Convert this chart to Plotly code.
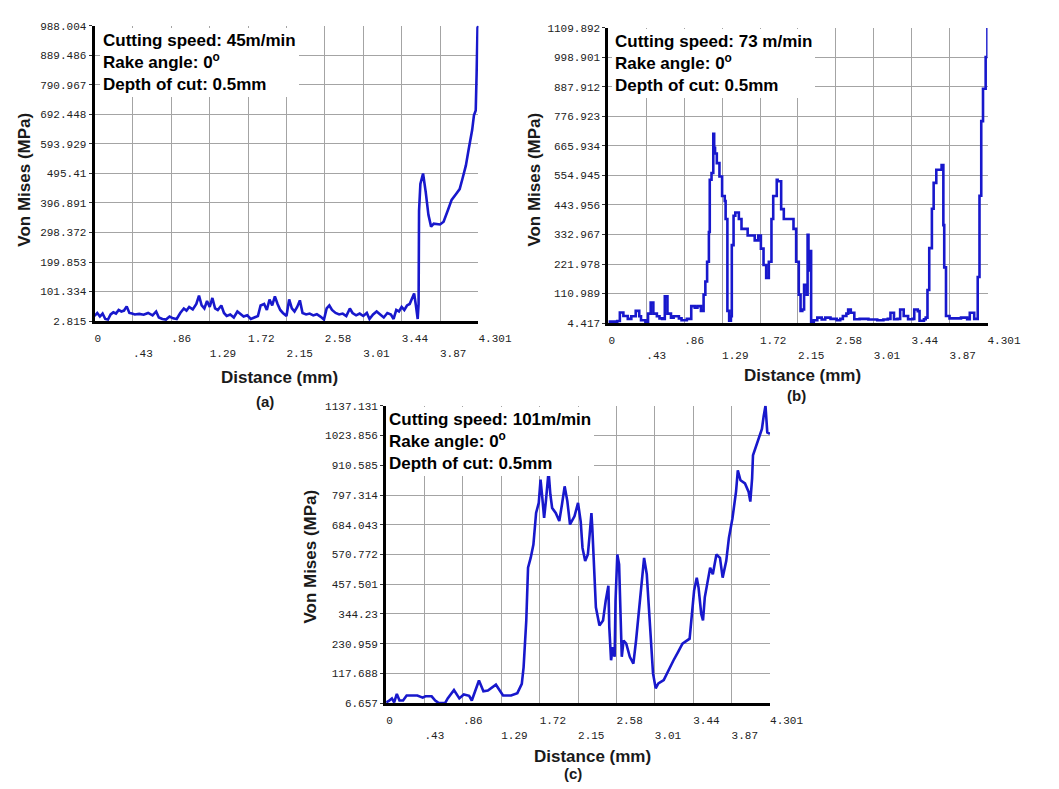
import numpy as np
import plotly.graph_objects as go

# ---------------- data ----------------
X_TICKS = [0, 0.43, 0.86, 1.29, 1.72, 2.15, 2.58, 3.01, 3.44, 3.87, 4.301]
X_TICK_LABELS = ["0", ".43", ".86", "1.29", "1.72", "2.15", "2.58", "3.01", "3.44", "3.87", "4.301"]

A_YTICKS = ["2.815", "101.334", "199.853", "298.372", "396.891", "495.41",
            "593.929", "692.448", "790.967", "889.486", "988.004"]
B_YTICKS = ["4.417", "110.989", "221.978", "332.967", "443.956", "554.945",
            "665.934", "776.923", "887.912", "998.901", "1109.892"]
C_YTICKS = ["6.657", "117.688", "230.959", "344.23", "457.501", "570.772",
            "684.043", "797.314", "910.585", "1023.856", "1137.131"]

# (a) 45 m/min
a_dist = [0.00, 0.03, 0.06, 0.09, 0.12, 0.15, 0.18, 0.21, 0.24, 0.27, 0.30, 0.33, 0.36, 0.39,
          0.42, 0.45, 0.50, 0.55, 0.60, 0.65, 0.69, 0.72, 0.76, 0.80, 0.84, 0.88, 0.92, 0.96,
          1.00, 1.03, 1.06, 1.10, 1.14, 1.17, 1.20, 1.23, 1.26, 1.29, 1.32, 1.35, 1.38, 1.42,
          1.45, 1.48, 1.52, 1.56, 1.60, 1.63, 1.67, 1.71, 1.75, 1.79, 1.83, 1.86, 1.90, 1.93,
          1.96, 1.99, 2.02, 2.05, 2.08, 2.11, 2.15, 2.18, 2.21, 2.24, 2.27, 2.30, 2.33, 2.37,
          2.41, 2.45, 2.49, 2.53, 2.57, 2.60, 2.63, 2.66, 2.70, 2.74, 2.78, 2.82, 2.86, 2.89,
          2.93, 2.97, 3.01, 3.05, 3.08, 3.12, 3.16, 3.20, 3.24, 3.28, 3.32, 3.35, 3.38, 3.41,
          3.44, 3.47, 3.50, 3.53, 3.56, 3.58, 3.60, 3.62, 3.63, 3.635, 3.65, 3.68, 3.71, 3.74,
          3.77, 3.80, 3.87, 3.91, 3.96, 4.00, 4.05, 4.09, 4.12, 4.16, 4.19, 4.23, 4.25, 4.27,
          4.28, 4.29, 4.30]
a_mises = [20, 30, 18, 28, 10, 8, 25, 32, 28, 40, 35, 38, 52, 30,
           28, 25, 27, 24, 30, 22, 35, 15, 10, 8, 18, 12, 10, 30,
           45, 38, 50, 42, 60, 88, 55, 45, 70, 50, 80, 45, 40, 55,
           30, 20, 25, 15, 35, 28, 18, 22, 10, 15, 20, 55, 60, 40,
           75, 55, 85, 60, 40, 30, 20, 75, 45, 35, 50, 72, 30, 25,
           28, 22, 26, 18, 8, 45, 55, 40, 30, 25, 28, 20, 45, 30,
           22, 28, 20, 30, 10, 25, 35, 25, 15, 30, 25, 10, 40, 35,
           50, 40, 55, 60, 80, 95, 55, 10, 60, 370, 460, 495, 433, 357,
           318, 328, 325, 334, 374, 407, 427, 443, 476, 522, 574, 640, 689, 705,
           827, 981, 988]

# (b) 73 m/min
b_dist = [0.00, 0.05, 0.10, 0.13, 0.17, 0.22, 0.26, 0.31, 0.35, 0.37, 0.42, 0.45, 0.48, 0.51,
          0.55, 0.58, 0.61, 0.64, 0.67, 0.71, 0.74, 0.80, 0.83, 0.89, 0.94, 0.98, 1.01, 1.05,
          1.08, 1.10, 1.12, 1.14, 1.15, 1.17, 1.19, 1.20, 1.21, 1.23, 1.26, 1.29, 1.32, 1.33,
          1.35, 1.37, 1.39, 1.40, 1.42, 1.44, 1.48, 1.51, 1.58, 1.66, 1.70, 1.73, 1.76, 1.79,
          1.82, 1.85, 1.87, 1.91, 1.92, 1.96, 1.99, 2.09, 2.10, 2.13, 2.16, 2.18, 2.20, 2.22,
          2.25, 2.26, 2.27, 2.28, 2.30, 2.33, 2.37, 2.42, 2.46, 2.52, 2.59, 2.63, 2.66, 2.70,
          2.72, 2.75, 2.79, 2.85, 2.95, 3.05, 3.12, 3.17, 3.20, 3.24, 3.28, 3.31, 3.35, 3.40,
          3.45, 3.47, 3.51, 3.53, 3.58, 3.60, 3.62, 3.64, 3.67, 3.69, 3.72, 3.78, 3.80, 3.81,
          3.83, 3.87, 4.00, 4.07, 4.10, 4.15, 4.17, 4.19, 4.21, 4.23, 4.25, 4.28, 4.30]
b_mises = [10, 10, 12, 44, 31, 20, 30, 50, 30, 15, 10, 40, 81, 40,
           30, 22, 20, 105, 40, 25, 30, 22, 15, 20, 68, 62, 68, 50,
           111, 160, 234, 345, 541, 566, 713, 660, 639, 603, 553, 480, 461, 394,
           50, 13, 30, 296, 406, 418, 394, 357, 332, 314, 332, 283, 222, 173,
           234, 394, 480, 541, 535, 431, 394, 394, 357, 234, 111, 50, 55, 148,
           111, 335, 201, 274, 10, 15, 25, 18, 25, 20, 15, 20, 31, 40,
           55, 43, 19, 20, 18, 15, 18, 20, 43, 19, 20, 55, 31, 19,
           20, 55, 49, 13, 19, 25, 128, 285, 432, 529, 578, 596, 371, 213,
           31, 22, 25, 19, 43, 20, 20, 177, 481, 760, 881, 1000, 1109]

# (c) 101 m/min
c_dist = [0.00, 0.03, 0.065, 0.09, 0.12, 0.15, 0.19, 0.23, 0.28, 0.35, 0.41, 0.44, 0.51, 0.55,
          0.59, 0.66, 0.69, 0.76, 0.82, 0.87, 0.93, 0.96, 1.04, 1.09, 1.14, 1.23, 1.31, 1.40,
          1.47, 1.52, 1.54, 1.57, 1.59, 1.62, 1.65, 1.67, 1.68, 1.71, 1.73, 1.75, 1.77, 1.79,
          1.82, 1.84, 1.86, 1.90, 1.94, 1.97, 2.00, 2.03, 2.06, 2.11, 2.15, 2.18, 2.20, 2.23,
          2.26, 2.28, 2.30, 2.31, 2.33, 2.35, 2.39, 2.43, 2.46, 2.49, 2.50, 2.52, 2.54, 2.56,
          2.57, 2.59, 2.61, 2.62, 2.64, 2.66, 2.69, 2.73, 2.77, 2.80, 2.84, 2.87, 2.89, 2.92,
          2.95, 2.97, 2.99, 3.02, 3.05, 3.11, 3.16, 3.22, 3.27, 3.32, 3.40, 3.42, 3.45, 3.48,
          3.50, 3.53, 3.55, 3.57, 3.61, 3.63, 3.66, 3.70, 3.74, 3.77, 3.81, 3.84, 3.88, 3.92,
          3.94, 3.97, 4.02, 4.06, 4.08, 4.10, 4.11, 4.15, 4.18, 4.21, 4.23, 4.25, 4.26, 4.27,
          4.30]
c_mises = [10, 15, 25, 10, 42, 17, 17, 36, 36, 36, 28, 33, 33, 17,
           7, 7, 25, 57, 25, 40, 35, 17, 93, 52, 55, 77, 36, 36,
           45, 80, 143, 320, 522, 560, 610, 680, 730, 768, 857, 787, 711, 775,
           888, 800, 749, 730, 699, 762, 831, 775, 686, 717, 768, 697, 597, 547,
           572, 647, 729, 672, 522, 371, 302, 321, 396, 453, 296, 170, 220, 183,
           396, 572, 534, 396, 183, 245, 233, 183, 157, 245, 396, 497, 559, 497,
           346, 220, 120, 63, 82, 95, 132, 170, 201, 233, 252, 321, 434, 484,
           446, 346, 321, 409, 484, 522, 497, 572, 559, 484, 547, 635, 710, 811,
           892, 854, 842, 811, 773, 861, 949, 986, 1018, 1049, 1099, 1137, 1087, 1036,
           1030]

SPEEDS = ["Cutting speed: 45m/min", "Cutting speed: 73 m/min", "Cutting speed: 101m/min"]
PANEL_LABELS = ["(a)", "(b)", "(c)"]

# ---------------- layout helpers ----------------
W, H = 1059, 789
def fx(p):
    return p / W
def fy(p):
    return 1 - p / H

LINE_COLOR = "rgb(24,24,204)"
GRID = "#a4a4a4"
TICKFONT = dict(family="Liberation Mono", size=11, color="#222222")
BOLD = "Liberation Sans"

# plot boxes in window pixels: left, right, top, bottom
panels = [
    dict(x=a_dist, y=a_mises, yt=A_YTICKS, box=(91, 490, 21, 321), shape="linear",
         text_xy=(97, 23), ytitle=(18, 177), xtitle=(283, 378), lab=(268, 403)),
    dict(x=b_dist, y=b_mises, yt=B_YTICKS, box=(625, 1019, 23, 323), shape="hv",
         text_xy=(629, 24), ytitle=(548, 177), xtitle=(827, 376), lab=(820, 397)),
    dict(x=c_dist, y=c_mises, yt=C_YTICKS, box=(394, 793, 407, 709), shape="linear",
         text_xy=(394, 408), ytitle=(315, 560), xtitle=(608, 763), lab=(588, 780)),
]

def left_aligned(s):
    return "\u00a0" * len(s) + s

fig = go.Figure()
layout = dict(width=W, height=H, margin=dict(l=0, r=0, t=0, b=0),
              paper_bgcolor="white", plot_bgcolor="white", showlegend=False)
annotations = []

for i, p in enumerate(panels):
    n = i + 1
    xa = "x" if n == 1 else f"x{n}"
    ya = "y" if n == 1 else f"y{n}"
    fig.add_trace(go.Scatter(x=p["x"], y=p["y"], mode="lines", xaxis=xa, yaxis=ya,
                             line=dict(color=LINE_COLOR, width=2.6, shape=p["shape"]),
                             hoverinfo="x+y"))
    l, r, t, b = p["box"]
    ylo, yhi = float(p["yt"][0]), float(p["yt"][-1])
    ytv = list(np.linspace(ylo, yhi, len(p["yt"])))
    xtxt = [left_aligned(s) if k % 2 == 0 else "<br>" + left_aligned(s)
            for k, s in enumerate(X_TICK_LABELS)]

    layout["xaxis" if n == 1 else f"xaxis{n}"] = dict(
        domain=[fx(l), fx(r)], anchor=ya, range=[0, 4.301],
        tickvals=X_TICKS, ticktext=xtxt, ticks="", tickangle=0, ticklabelstandoff=5,
        showgrid=True, gridcolor=GRID, gridwidth=1, zeroline=False,
        showline=True, linecolor="black", linewidth=3, tickfont=TICKFONT,
        fixedrange=True)
    layout["yaxis" if n == 1 else f"yaxis{n}"] = dict(
        domain=[fy(b), fy(t)], anchor=xa, range=[ylo, yhi],
        tickvals=ytv, ticktext=p["yt"], ticks="outside", ticklen=3, tickcolor="#333333",
        showgrid=True, gridcolor=GRID, gridwidth=1, zeroline=False,
        showline=True, linecolor="black", linewidth=3, tickfont=TICKFONT,
        fixedrange=True)

    tx, ty = p["text_xy"]
    annotations.append(dict(
        xref="paper", yref="paper", x=fx(tx), y=fy(ty), xanchor="left", yanchor="top",
        align="left", showarrow=False, bgcolor="white", borderpad=3, borderwidth=0,
        text=f"<b>{SPEEDS[i]}<br>Rake angle: 0<sup>o</sup><br>Depth of cut: 0.5mm</b>",
        font=dict(family=BOLD, size=17, color="black")))
    yx, yy = p["ytitle"]
    annotations.append(dict(
        xref="paper", yref="paper", x=fx(yx), y=fy(yy), xanchor="center", yanchor="middle",
        textangle=-90, showarrow=False, text="<b>Von Mises (MPa)</b>",
        font=dict(family=BOLD, size=17, color="#1a1a1a")))
    dx, dy = p["xtitle"]
    annotations.append(dict(
        xref="paper", yref="paper", x=fx(dx), y=fy(dy), xanchor="center", yanchor="middle",
        showarrow=False, text="<b>Distance (mm)</b>",
        font=dict(family=BOLD, size=17, color="#1a1a1a")))
    lx, ly = p["lab"]
    annotations.append(dict(
        xref="paper", yref="paper", x=fx(lx), y=fy(ly), xanchor="center", yanchor="middle",
        showarrow=False, text=f"<b>{PANEL_LABELS[i]}</b>",
        font=dict(family=BOLD, size=15, color="#1a1a1a")))

layout["annotations"] = annotations
fig.update_layout(**layout)
fig.write_html(
    "out.html",
    config={"displayModeBar": False},
    post_script=("document.documentElement.style.overflow='hidden';"
                 "document.body.style.margin='0';"
                 "document.body.style.overflow='hidden';"))
